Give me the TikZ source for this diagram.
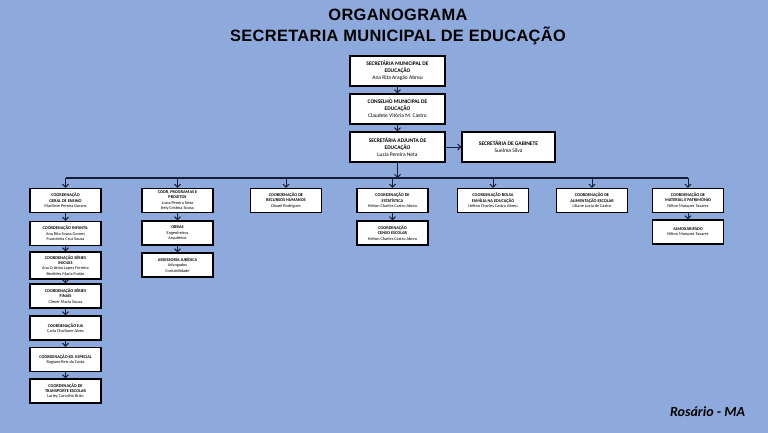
\documentclass[tikz,border=0pt]{standalone}
\usepackage{fontspec}
\setmainfont{Carlito}
\newfontfamily\titlefont[BoldFont={Liberation Sans Bold}, LetterSpace=2.0]{Liberation Sans}
\usetikzlibrary{
  arrows.meta,
  positioning
}
\definecolor{bgblue}{RGB}{142,169,220}
\definecolor{navy}{RGB}{22,30,58}
\tikzset{
  box/.style = {rectangle, draw=black, fill=white, line width=1.2pt,
      align=center, inner sep=1pt, minimum width=#1},
  box/.default = 71pt, % width of the box
  bigbox/.style = {box=95pt, minimum height=30pt,
      font=\fontsize{5.5}{7}\selectfont},
  smallbox/.style = {box=71pt, minimum height=24pt,
      font=\fontsize{4.3}{5.4}\selectfont},
  link/.style = {draw=navy, line width=1pt,
      -{Straight Barb[length=3pt, width=6pt]}},
  bus/.style = {draw=navy, line width=1.3pt},
}

\begin{document}
\begin{tikzpicture}[x=1pt, y=-1pt]
  \useasboundingbox[fill=bgblue] (0,0) rectangle (768,433);

  \node[font=\titlefont\bfseries\fontsize{16.4}{21}\selectfont, align=center] (title) at (398,27)
  {ORGANOGRAMA\\SECRETARIA MUNICIPAL DE EDUCAÇÃO};

  \node[bigbox] (sec) at (397.5,71) {\textbf{SECRETÁRIA MUNICIPAL DE}\\\textbf{EDUCAÇÃO}\\Ana Rita Aragão Abreu};
  \node[bigbox] (cons) at (397.5,109) {\textbf{CONSELHO MUNICIPAL DE}\\\textbf{EDUCAÇÃO}\\Claudete Vitória M. Castro};
  \node[bigbox] (adj) at (397.5,147) {\textbf{SECRETÁRIA ADJUNTA DE}\\\textbf{EDUCAÇÃO}\\Luzia Pereira Neta};
  \node[bigbox, minimum width=93pt] (gab) at (508.5,147) {\textbf{SECRETÁRIA DE GABINETE}\\Suelma Silva};

  \coordinate (bus) at (397.5,178);

  \node[smallbox] (ens) at (65.5,200.5) {\textbf{COORDENAÇÃO}\\\textbf{GERAL DE ENSINO}\\Marilene Pereira Durans};
  \node[smallbox] (prog) at (177.5,200.5) {\textbf{COOR. PROGRAMAS E}\\\textbf{PROJETOS}\\Luzia Pereira Neta\\Kely Cristina Sousa};
  \node[smallbox] (rh) at (286,200.5) {\textbf{COORDENAÇÃO DE}\\\textbf{RECURSOS HUMANOS}\\Dinael Rodrigues};
  \node[smallbox] (est) at (392.5,200.5) {\textbf{COORDENAÇÃO DE}\\\textbf{ESTATÍSTICA}\\Helton Charles Castro Abreu};
  \node[smallbox] (bolsa) at (493,200.5) {\textbf{COORDENAÇÃO BOLSA}\\\textbf{FAMÍLIA NA EDUCAÇÃO}\\Helton Charles Castro Abreu};
  \node[smallbox] (alim) at (592,200.5) {\textbf{COORDENAÇÃO DE}\\\textbf{ALIMENTAÇÃO ESCOLAR}\\Liliane Lúcia de Castro};
  \node[smallbox] (mat) at (688,200.5) {\textbf{COORDENAÇÃO DE}\\\textbf{MATERIAL E PATRIMÔNIO}\\Nilton Marques Tavares};

  \node[smallbox] (inf) at (65.5,233.5) {\textbf{COORDENAÇÃO INFANTIL}\\Ana Rita Sousa Gomes\\Francineia Cruz Sousa};
  \node[smallbox, minimum height=27pt] (ini) at (65.5,265.5) {\textbf{COORDENAÇÃO SÉRIES}\\\textbf{INICIAIS}\\Ana Cristina Lopes Ferreira\\Benildes Maria Fraião};
  \node[smallbox] (fin) at (65.5,296) {\textbf{COORDENAÇÃO SÉRIES}\\\textbf{FINAIS}\\Climér Maria Sousa};
  \node[smallbox] (eja) at (65.5,328) {\textbf{COORDENAÇÃO EJA}\\Carla Charliane Alves};
  \node[smallbox] (esp) at (65.5,359.5) {\textbf{COORDENAÇÃO ED. ESPECIAL}\\Rogiane Reis da Costa};
  \node[smallbox] (transp) at (65.5,391) {\textbf{COORDENAÇÃO DE}\\\textbf{TRANSPORTE ESCOLAR}\\Larley Carvalho Brito};

  \node[smallbox] (obras) at (177.5,233) {\textbf{OBRAS}\\Engenheiros\\Arquitetos};
  \node[smallbox] (jur) at (177.5,265) {\textbf{ASSESSORIA JURÍDICA}\\Advogados\\Contabilidade};
  \node[smallbox] (censo) at (392.5,233) {\textbf{COORDENAÇÃO}\\\textbf{CENSO ESCOLAR}\\Helton Charles Castro Abreu};
  \node[smallbox] (almox) at (688,232) {\textbf{ALMOXARIFADO}\\Nilton Marques Tavares};

  \draw[link] (sec) -- (cons);
  \draw[link] (cons) -- (adj);
  \draw[link] (adj) -- (gab);
  \draw[link] (adj) -- (bus);
  \draw[bus] (ens.north |- bus) -- (mat.north |- bus);
  \foreach \c in {ens, prog, rh, est, bolsa, alim, mat}
    \draw[link] (\c.north |- bus) -- (\c.north);

  \draw[link] (ens) -- (inf);
  \draw[link] (inf) -- (ini);
  \draw[link] (ini) -- (fin);
  \draw[link] (fin) -- (eja);
  \draw[link] (eja) -- (esp);
  \draw[link] (esp) -- (transp);
  \draw[link] (prog) -- (obras);
  \draw[link] (obras) -- (jur);
  \draw[link] (est) -- (censo);
  \draw[link] (mat) -- (almox);

  \node[font=\bfseries\itshape\fontsize{14}{16}\selectfont] (place) at (707.5,412) {Rosário - MA};
\end{tikzpicture}
\end{document}
